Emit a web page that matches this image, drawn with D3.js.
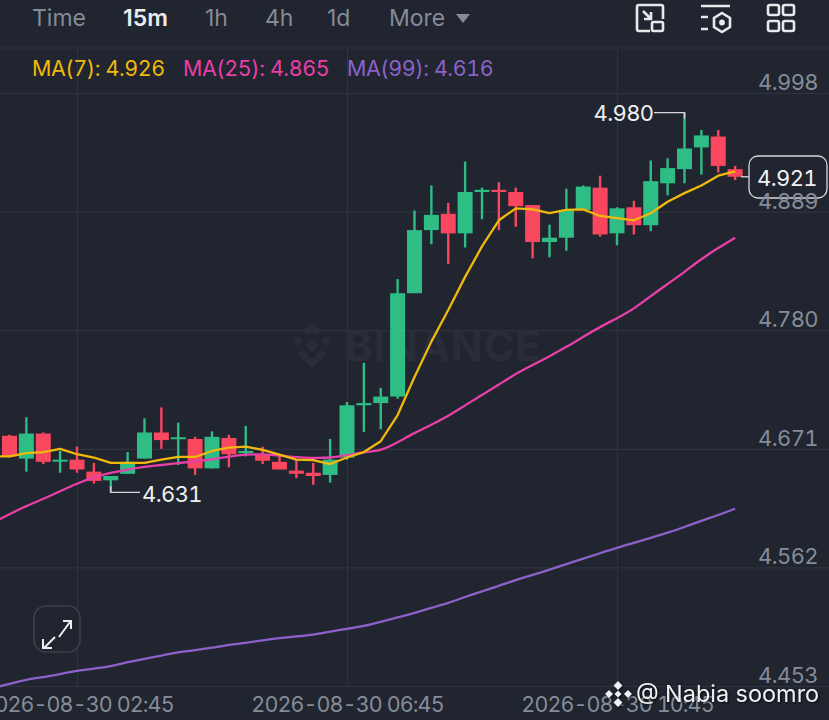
<!DOCTYPE html>
<html>
<head>
<meta charset="utf-8">
<script src="https://cdn.jsdelivr.net/npm/d3@7"></script>
<style>
html, body { margin: 0; padding: 0; background: #20252f; overflow: hidden; }
svg { display: block; font-family: Inter, "Noto Sans", sans-serif; font-feature-settings: "tnum"; }
</style>
</head>
<body>
<svg id="chart" width="829" height="720"></svg>
<script>
// first candle is 4 bars before the 02:45 tick, the MA lines start one bar earlier
var opens = [4.683,4.662,4.685,4.6595,4.661,4.650,4.642,4.648,4.662,4.686,4.680,4.680,4.653,4.681,4.667,4.666,4.659,4.651,4.649,4.647,4.663,4.711,4.713,4.719,4.814,4.872,4.887,4.869,4.907,4.909,4.907,4.895,4.861,4.865,4.8905,4.911,4.869,4.893,4.8765,4.915,4.928,4.948,4.958,4.928];
var highs = [4.684,4.700,4.686,4.669,4.673,4.658,4.646,4.668,4.699,4.709,4.695,4.682,4.687,4.684,4.692,4.673,4.666,4.661,4.658,4.680,4.714,4.750,4.727,4.827,4.890,4.913,4.897,4.935,4.911,4.916,4.911,4.895,4.877,4.910,4.913,4.922,4.893,4.899,4.936,4.938,4.980,4.964,4.964,4.931];
var lows = [4.663,4.650,4.657,4.649,4.649,4.639,4.631,4.648,4.662,4.671,4.656,4.647,4.653,4.654,4.664,4.657,4.652,4.644,4.638,4.640,4.661,4.6865,4.689,4.717,4.814,4.859,4.841,4.856,4.882,4.872,4.875,4.846,4.847,4.853,4.8905,4.866,4.858,4.868,4.871,4.904,4.915,4.923,4.925,4.918];
var closes = [4.664,4.685,4.659,4.661,4.652,4.6415,4.646,4.659,4.686,4.679,4.6816,4.653,4.682,4.666,4.669,4.660,4.652,4.648,4.646,4.661,4.711,4.713,4.719,4.814,4.872,4.886,4.869,4.907,4.909,4.907,4.894,4.861,4.865,4.8905,4.912,4.868,4.892,4.8765,4.917,4.929,4.947,4.959,4.931,4.921];

var ma7 = [4.664,4.664,4.667,4.668,4.671,4.666,4.663,4.658,4.658,4.658,4.661,4.6635,4.6635,4.669,4.672,4.673,4.670,4.6656,4.661,4.6605,4.657,4.663,4.668,4.678,4.702,4.737,4.7695,4.7986,4.829,4.857,4.881,4.892,4.891,4.8875,4.8905,4.891,4.885,4.883,4.881,4.8875,4.898,4.906,4.913,4.922,4.926];
var ma25 = [4.603,4.611,4.6185,4.625,4.632,4.639,4.645,4.649,4.652,4.6546,4.656,4.658,4.6596,4.661,4.664,4.666,4.666,4.665,4.663,4.6626,4.6626,4.665,4.668,4.669,4.677,4.6856,4.693,4.701,4.711,4.7205,4.730,4.740,4.748,4.756,4.7646,4.774,4.783,4.791,4.7995,4.8115,4.8225,4.8335,4.8455,4.8556,4.865];
var ma99 = [4.451,4.455,4.459,4.461,4.464,4.467,4.469,4.471,4.475,4.478,4.481,4.484,4.486,4.488,4.491,4.4926,4.495,4.497,4.4986,4.500,4.503,4.5055,4.508,4.512,4.516,4.520,4.525,4.529,4.535,4.540,4.545,4.5505,4.555,4.560,4.565,4.570,4.575,4.580,4.5845,4.589,4.594,4.599,4.605,4.610,4.616];

var priceTicks = [4.998, 4.889, 4.780, 4.671, 4.562, 4.453];
var timeTicks = ["2026-08-30 02:45", "2026-08-30 06:45", "2026-08-30 10:45"];
var tabs = ["Time", "15m", "1h", "4h", "1d", "More"];
var tabX = [32, 123, 205, 265, 327, 389];
var maNames = ["MA(7): 4.926", "MA(25): 4.865", "MA(99): 4.616"];
var maColors = ["#f0b90b", "#e83fa8", "#8c62c9"];

var bg = "#20252f", grid = "#2e333d", axisText = "#858c98";
var up = "#2ebd85", down = "#f9475f";

var parseT = d3.utcParse("%Y-%m-%d %H:%M");
var fmtT = d3.utcFormat("%Y-%m-%d %H:%M");
var t0 = parseT(timeTicks[0]);
function barTime(i) { return new Date(t0.getTime() + i * 15 * 60000); }

var svg = d3.select("#chart");

var xScale = d3.scaleUtc().domain([parseT(timeTicks[0]), parseT(timeTicks[2])]).range([77, 617]);
var yScale = d3.scaleLinear().domain([4.998, 4.453]).range([93, 686]);

// top bar divider
svg.append("line").attr("x1", 0).attr("x2", 829).attr("y1", 48).attr("y2", 48)
	.attr("stroke", grid).attr("stroke-width", 1.2);

// vertical grid + time labels
var xAxis = d3.axisBottom(xScale)
	.tickValues(timeTicks.map(parseT))
	.tickFormat(fmtT)
	.tickSize(-638)
	.tickPadding(8);
var xG = svg.append("g").attr("transform", "translate(0,686)").call(xAxis);
xG.select(".domain").remove();
xG.selectAll("line").attr("stroke", grid).attr("stroke-width", 1.2);
xG.selectAll("text").attr("fill", axisText).attr("font-size", 21.5).attr("letter-spacing", -0.9)
	.attr("font-family", "Inter, sans-serif").attr("y", 6).attr("dy", "0.95em");

// horizontal grid
var yAxis = d3.axisRight(yScale).tickValues(priceTicks).tickFormat(d3.format(".3f")).tickSize(829);
var yGrid = svg.append("g").call(yAxis);
yGrid.select(".domain").remove();
yGrid.selectAll("line").attr("stroke", grid).attr("stroke-width", 1.2);
yGrid.selectAll("text").remove();

// watermark
var wm = svg.append("g").attr("fill", "#282d38");
wm.append("path").attr("d", "M312 322l9 9-4.500 4.500-4.500-4.500-4.500 4.500-4.500-4.500zM298 336l4.500 4.500-4.500 4.500-4.500-4.500zM326 336l4.500 4.500-4.500 4.500-4.500-4.500zM312 338l7 7-7 7-7-7zM302.500 349.500l4.500 4.500 5 5 5-5 4.500-4.500 4.500 4.500-14 14-14-14z");
wm.append("text").attr("x", 345).attr("y", 361).attr("font-size", 42).attr("font-weight", 700)
	.attr("letter-spacing", 0.7).attr("font-family", "Inter, sans-serif").text("BINANCE");

// candles
var candles = opens.map(function(o, i) {
	return {t: barTime(i - 4), o: o, h: highs[i], l: lows[i], c: closes[i]};
});

var candleG = svg.append("g").selectAll("g").data(candles).enter().append("g");
candleG.append("line")
	.attr("x1", function(d) { return xScale(d.t); })
	.attr("x2", function(d) { return xScale(d.t); })
	.attr("y1", function(d) { return yScale(d.h); })
	.attr("y2", function(d) { return yScale(d.l); })
	.attr("stroke", function(d) { return d.c >= d.o ? up : down; })
	.attr("stroke-width", 2.4);
candleG.append("rect")
	.attr("x", function(d) { return xScale(d.t) - 7.5; })
	.attr("width", 15)
	.attr("y", function(d) { return yScale(Math.max(d.o, d.c)); })
	.attr("height", function(d) { return Math.max(2, Math.abs(yScale(d.o) - yScale(d.c))); })
	.attr("fill", function(d) { return d.c >= d.o ? up : down; });

// moving averages
var maLine = d3.line()
	.x(function(d, i) { return xScale(barTime(i - 5)); })
	.y(function(d) { return yScale(d); });

// pink and purple go under the yellow one, yellow has real kinks so stays straight
[[ma99, maColors[2], d3.curveBasis], [ma25, maColors[1], d3.curveBasis], [ma7, maColors[0], d3.curveLinear]].forEach(function(s) {
	svg.append("path").attr("d", maLine.curve(s[2])(s[0]))
		.attr("fill", "none").attr("stroke", s[1]).attr("stroke-width", 2.3)
		.attr("stroke-linejoin", "round");
});

// high / low callouts
function callout(tIdx, price, tx) {
	var px = xScale(barTime(tIdx)), py = yScale(price);
	svg.append("path")
		.attr("d", "M" + px + " " + (py + (price > 4.8 ? 6 : -6)) + "V" + py + "H" + tx)
		.attr("fill", "none").attr("stroke", "#d5d8dc").attr("stroke-width", 1.3);
}
callout(36, 4.980, 654);
callout(2, 4.631, 140);
svg.append("text").attr("x", 593.5).attr("y", 113).attr("dy", "0.36em").attr("fill", "#eef0f2")
	.attr("font-size", 22).attr("letter-spacing", -0.6).text("4.980");
svg.append("text").attr("x", 142).attr("y", 494).attr("dy", "0.36em").attr("fill", "#eef0f2")
	.attr("font-size", 22).attr("letter-spacing", -0.6).text("4.631");

// last price box
svg.append("line").attr("x1", 741).attr("x2", 749).attr("y1", yScale(4.921)).attr("y2", yScale(4.921))
	.attr("stroke", "#d5d8dc").attr("stroke-width", 1.3);
svg.append("rect").attr("x", 749).attr("y", 156).attr("width", 78).attr("height", 42).attr("rx", 9)
	.attr("fill", bg).attr("stroke", "#d5d8dc").attr("stroke-width", 1.3);
svg.append("text").attr("x", 817).attr("y", 178).attr("dy", "0.36em").attr("text-anchor", "end")
	.attr("fill", "#f2f3f5").attr("font-size", 22).attr("letter-spacing", -0.6).text("4.921");

// price labels sit just above their grid line
svg.append("g").selectAll("text").data(priceTicks).enter().append("text")
	.attr("x", 818)
	.attr("y", function(d) { return yScale(d) - 11; })
	.attr("dy", "0.36em")
	.attr("text-anchor", "end")
	.attr("fill", axisText)
	.attr("font-size", 22)
	.attr("letter-spacing", -0.6)
	.text(d3.format(".3f"));

// tabs
svg.append("g").selectAll("text").data(tabs).enter().append("text")
	.attr("x", function(d, i) { return tabX[i]; })
	.attr("y", 18)
	.attr("dy", "0.36em")
	.attr("font-size", 23)
	.attr("style", "font-feature-settings: normal")
	.attr("font-weight", function(d) { return d == "15m" ? 600 : 400; })
	.attr("fill", function(d) { return d == "15m" ? "#eaecef" : axisText; })
	.text(function(d) { return d; });
svg.append("path").attr("d", "M456 14H470L463 23Z").attr("fill", axisText);

// MA legend
var maX = [32, 183, 347];
svg.append("g").selectAll("text").data(maNames).enter().append("text")
	.attr("x", function(d, i) { return maX[i]; })
	.attr("y", 68)
	.attr("dy", "0.36em")
	.attr("font-size", 21.5)
	.attr("letter-spacing", -0.45)
	.attr("fill", function(d, i) { return maColors[i]; })
	.text(function(d) { return d; });

// toolbar icons
var icons = svg.append("g").attr("fill", "none").attr("stroke", "#e6e8ea").attr("stroke-width", 2.6);
icons.append("path").attr("d", "M650 31H639Q637 31 637 29V7Q637 5 639 5H661Q663 5 663 7V19");
icons.append("rect").attr("x", 652).attr("y", 22).attr("width", 11).attr("height", 9).attr("rx", 1.5);
icons.append("path").attr("d", "M643 11L651 19M651 12V19H644");
icons.append("path").attr("d", "M701 6H730M701 17H708M701 29H708");
icons.append("path").attr("d", "M722 13L730 18V27L722 32L714 27V18Z");
icons.append("circle").attr("cx", 722).attr("cy", 22.5).attr("r", 1.6).attr("fill", "#e6e8ea");
[[768, 5], [783, 5], [768, 21], [783, 21]].forEach(function(p) {
	icons.append("rect").attr("x", p[0]).attr("y", p[1]).attr("width", 11).attr("height", 10).attr("rx", 2);
});

// expand button
svg.append("rect").attr("x", 34).attr("y", 606).attr("width", 46).attr("height", 46).attr("rx", 12)
	.attr("fill", bg).attr("stroke", "#3b404a").attr("stroke-width", 1.6);
svg.append("path").attr("d", "M59 637L70 622M63 621H71V629M55 637L44 648M43 639V648H52")
	.attr("fill", "none").attr("stroke", "#eceef0").attr("stroke-width", 2);

// square post watermark
var credit = svg.append("g").attr("style", "filter:drop-shadow(1px 1px 1px rgba(0,0,0,.7))");
credit.append("path").attr("d", "M618 681l4.500 4.500-4.500 4.500-4.500-4.500zM609 690l4 4-4 4-4-4zM628 690l4 4-4 4-4-4zM618 690.500l3.500 3.500-3.500 3.500-3.500-3.500zM618 698l4.500 4.500-4.500 4.500-4.500-4.500z")
	.attr("fill", "#f0f1f3");
credit.append("text").attr("x", 636).attr("y", 694).attr("dy", "0.36em").attr("font-size", 23.5)
	.attr("fill", "#f0f1f3")
	.text("@ Nabia soomro");
</script>
</body>
</html>
